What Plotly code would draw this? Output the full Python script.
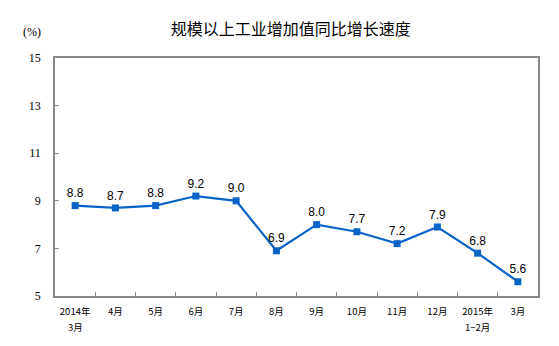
import plotly.graph_objects as go

tick_line1 = ["2014年", "4月", "5月", "6月", "7月", "8月", "9月", "10月", "11月", "12月", "2015年", "3月"]
tick_line2 = ["3月", "", "", "", "", "", "", "", "", "", "1−2月", ""]
values = [8.8, 8.7, 8.8, 9.2, 9.0, 6.9, 8.0, 7.7, 7.2, 7.9, 6.8, 5.6]
y_ticks = [5, 7, 9, 11, 13, 15]

fig = go.Figure()
fig.add_trace(go.Scatter(
    x=tick_line1, y=values, mode="lines+markers+text",
    text=[f"{v:.1f}" for v in values], textposition="top center",
    textfont=dict(family="Liberation Sans, Arial", size=12, color="#000000"),
    line=dict(color="#0A64C8", width=2.2),
    marker=dict(symbol="square", size=7, color="#0A64C8"),
    cliponaxis=False,
))

annotations = [dict(text="(%)", xref="paper", yref="paper", x=-0.048, y=1.109, xanchor="center", yanchor="middle",
                    showarrow=False, font=dict(family="Liberation Serif", size=12, color="#000000"))]
for cat, sub in zip(tick_line1, tick_line2):
    if sub:
        annotations.append(dict(text=sub, xref="x", yref="paper", x=cat, y=-0.131, xanchor="center",
                                yanchor="middle", showarrow=False,
                                font=dict(family="Noto Sans CJK SC", size=9.5, color="#000000")))

fig.update_layout(
    width=559, height=346,
    margin=dict(l=55, r=21, t=58, b=50),
    paper_bgcolor="white", plot_bgcolor="white",
    showlegend=False,
    title=dict(text="规模以上工业增加值同比增长速度", x=0.52, xanchor="center", y=0.915, yanchor="middle",
               font=dict(family="Noto Sans CJK SC", size=16, color="#000000")),
    annotations=annotations,
)
fig.update_xaxes(
    type="category", tickson="boundaries", ticks="inside", ticklen=4, tickcolor="#888888",
    showline=True, linecolor="#888888", linewidth=1.5, mirror=True, showgrid=False,
    tickfont=dict(family="Noto Sans CJK SC", size=9.5, color="#000000"),
    tickangle=0, automargin=False, ticklabelstandoff=6,
    range=[-0.5, 11.5],
)
fig.update_yaxes(
    range=[5, 15], tickvals=y_ticks, ticks="inside", ticklen=4, tickcolor="#888888",
    showline=True, linecolor="#888888", linewidth=1.5, mirror=True, showgrid=False, zeroline=False,
    automargin=False,
    tickfont=dict(family="Liberation Serif", size=12, color="#000000"), ticklabelstandoff=10,
)

fig.write_html("out.html")
